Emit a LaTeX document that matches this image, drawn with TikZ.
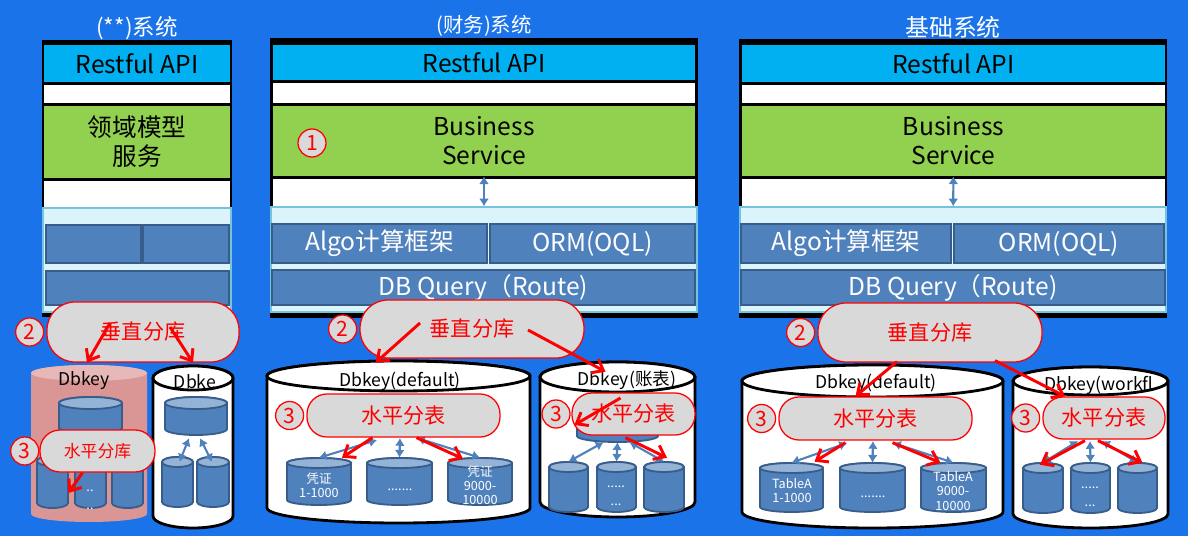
\documentclass[tikz,border=0pt]{standalone}
\usepackage{fontspec}
\setmainfont{Noto Sans CJK SC}
\usetikzlibrary{shapes, arrows, calc, arrows.meta, fit, positioning}

\definecolor{bgblue}{RGB}{26,115,232}
\definecolor{apicyan}{RGB}{0,176,240}
\definecolor{svcgreen}{RGB}{146,208,80}
\definecolor{dbblue}{RGB}{79,129,189}
\definecolor{dbedge}{RGB}{56,93,138}
\definecolor{dbtop}{RGB}{149,179,215}
\definecolor{panelcyan}{RGB}{219,244,251}
\definecolor{paneledge}{RGB}{120,195,220}
\definecolor{pillgray}{RGB}{217,217,217}
\definecolor{pinkbody}{RGB}{217,150,148}
\definecolor{pinktop}{RGB}{230,185,184}

\newcommand{\pxu}{0.025cm}% one pixel of the picture
% a box node from (x0,y0) to (x1,y1): style, name, x0, y0, x1, y1, then {text};
\newcommand{\bandnode}[6][]{\node[#1, minimum width={(#5-#3)*\pxu}, minimum height={(#6-#4)*\pxu}] (#2) at ({(#3+#5)/2},{(#4+#6)/2})}
% a drum: name, left x, right x, top y, bottom y, ellipse ry, body style, top style
\newcommand{\dbcyl}[8]{%
  \path[#7] (#2,#4+#6) -- (#2,#5-#6) arc[start angle=180, end angle=360, x radius={(#3-#2)/2*\pxu}, y radius={#6*\pxu}] -- (#3,#4+#6) arc[start angle=0, end angle=180, x radius={(#3-#2)/2*\pxu}, y radius={#6*\pxu}] -- cycle;
  \path[#8] ({(#2+#3)/2},#4+#6) ellipse[x radius={(#3-#2)/2*\pxu}, y radius={#6*\pxu}];
  \node[fit={(#2,#4) (#3,#5)}, inner sep=0pt] (#1) {};
}

\tikzset{
    frame/.style = {fill=black, inner sep=0pt}, % the black box round one system
    title/.style = {text=white, inner sep=0pt, font=\fontsize{16}{18}\selectfont},
    layer/.style = {inner sep=0pt, align=center, font=\fontsize{17.5}{20.5}\selectfont}, % one band of a system
    api/.style = {layer, fill=apicyan},
    svc/.style = {layer, fill=svcgreen},
    blank/.style = {layer, fill=white},
    panel/.style = {inner sep=0pt, fill=panelcyan, draw=paneledge, line width=0.8pt},
    dbox/.style = {layer, fill=dbblue, draw=dbedge, line width=1.5pt, text=white},
    pill/.style = {inner sep=0pt, fill=pillgray, draw=red, line width=0.9pt, rounded corners=0.5cm, text=red, font=\fontsize{15}{18}\selectfont},
    bigpill/.style = {pill, rounded corners=0.7cm},
    num/.style = {circle, draw=red, fill=pillgray, line width=0.9pt, minimum size=0.7cm, inner sep=0pt, text=red, font=\fontsize{15}{18}\selectfont},
    dbtext/.style = {inner sep=0pt, font=\fontsize{12.5}{14}\selectfont},
    tabtext/.style = {inner sep=0pt, text=white, align=center, font=\fontsize{9}{10}\selectfont},
    bigdb/.style = {fill=white, draw=black, line width=2pt},
    pinkdb/.style = {fill=pinkbody},
    pinkend/.style = {fill=pinktop},
    smalldb/.style = {fill=dbblue, draw=dbedge, line width=1.3pt},
    smalltop/.style = {fill=dbtop, draw=dbedge, line width=1.3pt},
    split/.style = {-{Straight Barb[length=7pt, width=11pt]}, red, line width=2.1pt}, % red arrow of a split
    bidir/.style = {{Latex[length=5.5pt, width=7pt]}-{Latex[length=5.5pt, width=7pt]}, dbblue, line width=1.5pt}
}

\begin{document}
\begin{tikzpicture}[x=0.025cm, y=-0.025cm]
\useasboundingbox (0,0) rectangle (1188,536);
\fill[bgblue] (0,0) rectangle (1188,536);

% (**) system
\bandnode[frame]{frameA}{42}{40}{232}{317} {};
\node[title, above=0pt of frameA] (titleA) {(**)系统};
\bandnode[api]{apiA}{44}{45}{230}{82} {Restful API};
\bandnode[blank]{gapA1}{44}{85}{230}{103} {};
\bandnode[svc]{svcA}{44}{106}{230}{178} {领域模型\\服务};
\bandnode[blank]{gapA2}{44}{181}{230}{207} {};
\bandnode[panel]{panelA}{43}{208}{231}{312} {};
\bandnode[dbox]{algoA}{46}{225}{141}{263} {};
\bandnode[dbox]{ormA}{143}{225}{229}{263} {};
\bandnode[dbox]{routeA}{46}{271}{229}{305} {};

% finance system
\bandnode[frame]{frameB}{270}{38}{698}{318} {};
\node[title, font=\fontsize{14.5}{17}\selectfont, above=1pt of frameB] (titleB) {(财务)系统};
\bandnode[api]{apiB}{273}{45}{695}{80} {Restful API};
\bandnode[blank]{gapB1}{273}{83}{695}{103} {};
\bandnode[svc]{svcB}{273}{106}{695}{176} {Business\\Service};
\bandnode[blank]{gapB2}{273}{179}{695}{207} {};
\bandnode[panel]{panelB}{271}{207}{697}{312} {};
\bandnode[dbox]{algoB}{272}{224}{487}{263} {Algo计算框架};
\bandnode[dbox]{ormB}{490}{224}{695}{263} {ORM(OQL)};
\bandnode[dbox]{routeB}{272}{270}{695}{305} {DB Query（Route)};
\node[num] (n1) at (312,143) {1};
\draw[bidir] (svcB) -- (panelB);

% base system
\bandnode[frame]{frameC}{739}{39}{1167}{318} {};
\node[title, font=\fontsize{17}{19}\selectfont, above=0pt of frameC] (titleC) {基础系统};
\bandnode[api]{apiC}{742}{45}{1165}{82} {Restful API};
\bandnode[blank]{gapC1}{742}{85}{1165}{103} {};
\bandnode[svc]{svcC}{742}{106}{1165}{176} {Business\\Service};
\bandnode[blank]{gapC2}{742}{179}{1165}{207} {};
\bandnode[panel]{panelC}{740}{207}{1166}{312} {};
\bandnode[dbox]{algoC}{741}{224}{951}{263} {Algo计算框架};
\bandnode[dbox]{ormC}{954}{224}{1164}{263} {ORM(OQL)};
\bandnode[dbox]{routeC}{741}{270}{1165}{305} {DB Query（Route)};
\draw[bidir] (svcC) -- (panelC);

% drums under (**)
\dbcyl{dbA}{31}{147}{365}{522}{8}{pinkdb}{pinkend}
\node[dbtext] (keyA) at (84,381) {Dbkey};
\dbcyl{dbA0}{59}{122}{397}{434}{6}{smalldb}{smalltop}
\dbcyl{dbA1}{37}{68}{456}{508}{5}{smalldb}{smalltop}
\dbcyl{dbA2}{75}{106}{456}{508}{5}{smalldb}{smalltop}
\dbcyl{dbA3}{112}{143}{456}{508}{5}{smalldb}{smalltop}
\node[tabtext, font=\fontsize{9}{12.5}\selectfont] (labA2) at (90,500) {..\\..};
\dbcyl{dbAw}{153}{233}{366}{528}{12}{bigdb}{bigdb}
\node[dbtext] (keyAw) at (195,382) {Dbke};
\dbcyl{dbAw0}{165}{227}{397}{435}{6}{smalldb}{smalltop}
\dbcyl{dbAw1}{162}{193}{457}{507}{5}{smalldb}{smalltop}
\dbcyl{dbAw2}{197}{229}{457}{507}{5}{smalldb}{smalltop}
\draw[bidir] ($(dbAw0.south)+(-7,3)$) -- ($(dbAw1.north)+(2,5)$);
\draw[bidir] ($(dbAw0.south)+(4,3)$) -- ($(dbAw2.north)+(-1,5)$);

% drums under finance
\dbcyl{dbB}{267}{530}{361}{523}{15}{bigdb}{bigdb}
\node[dbtext] (keyB) at (400,381) {Dbkey(default)};
\dbcyl{dbB1}{287}{351}{458}{505}{5}{smalldb}{smalltop}
\dbcyl{dbB2}{367}{432}{458}{505}{5}{smalldb}{smalltop}
\dbcyl{dbB3}{448}{512}{458}{505}{5}{smalldb}{smalltop}
\node[tabtext] (labB1) at (319,485) {凭证\\1-1000};
\node[tabtext] (labB2) at (400,490) {.......};
\node[tabtext] (labB3) at (480,485) {凭证\\9000-\\10000};
\coordinate (hubB) at (402,440);
\draw[bidir] ($(hubB)+(-25,0)$) -- (dbB1.north);
\draw[bidir] ($(hubB)+(-2,-2)$) -- (dbB2.north);
\draw[bidir] ($(hubB)+(15,-2)$) -- (dbB3.north);

\dbcyl{dbBb}{540}{695}{362}{517}{15}{bigdb}{bigdb}
\node[dbtext] (keyBb) at (627,380) {Dbkey(账表)};
\dbcyl{dbBb0}{577}{658}{402}{442}{6}{smalldb}{smalltop}
\dbcyl{dbBb1}{549}{588}{462}{512}{5}{smalldb}{smalltop}
\dbcyl{dbBb2}{597}{636}{462}{512}{5}{smalldb}{smalltop}
\dbcyl{dbBb3}{644}{684}{462}{512}{5}{smalldb}{smalltop}
\node[tabtext, font=\fontsize{9}{12.5}\selectfont] (labBb2) at (616,496) {.....\\...};
\draw[bidir] ($(dbBb0.south)+(-14,0)$) -- (dbBb1.north);
\draw[bidir] (dbBb0.south) -- (dbBb2.north);
\draw[bidir] ($(dbBb0.south)+(12,0)$) -- (dbBb3.north);

% drums under base
\dbcyl{dbC}{742}{1003}{365}{528}{16}{bigdb}{bigdb}
\node[dbtext] (keyC) at (876,383) {Dbkey(default)};
\dbcyl{dbC1}{760}{823}{463}{512}{5}{smalldb}{smalltop}
\dbcyl{dbC2}{840}{905}{463}{512}{5}{smalldb}{smalltop}
\dbcyl{dbC3}{921}{986}{463}{512}{5}{smalldb}{smalltop}
\node[tabtext] (labC1) at (792,491) {TableA\\1-1000};
\node[tabtext] (labC2) at (873,497) {.......};
\node[tabtext] (labC3) at (953,491) {TableA\\9000-\\10000};
\coordinate (hubC) at (873,441);
\draw[bidir] ($(hubC)+(-26,2)$) -- (dbC1.north);
\draw[bidir] (hubC) -- (dbC2.north);
\draw[bidir] ($(hubC)+(20,2)$) -- (dbC3.north);

\dbcyl{dbCb}{1013}{1168}{367}{528}{14}{bigdb}{bigdb}
\node[dbtext] (keyCb) at (1099,385) {Dbkey(workfl};
\dbcyl{dbCb1}{1023}{1063}{463}{513}{5}{smalldb}{smalltop}
\dbcyl{dbCb2}{1071}{1110}{463}{513}{5}{smalldb}{smalltop}
\dbcyl{dbCb3}{1118}{1157}{463}{513}{5}{smalldb}{smalltop}
\node[tabtext, font=\fontsize{9}{12.5}\selectfont] (labCb2) at (1090,497) {.....\\...};
\coordinate (hubCb) at (1090,441);
\draw[bidir] ($(hubCb)+(-12,0)$) -- (dbCb1.north);
\draw[bidir] (hubCb) -- (dbCb2.north);
\draw[bidir] ($(hubCb)+(12,0)$) -- (dbCb3.north);

% split bubbles
\bandnode[bigpill]{pillA2}{47}{302}{239}{362} {垂直分库};
\node[num, left=1.5pt of pillA2] (nA2) {2};
\bandnode[pill, font=\fontsize{12}{14}\selectfont]{pillA3}{40}{430}{155}{472} {水平分库};
\node[num, left=0pt of pillA3] (nA3) {3};
\bandnode[bigpill]{pillB2}{360}{300}{584}{358} {垂直分库};
\node[num, left=1.5pt of pillB2] (nB2) {2};
\bandnode[pill]{pillB3}{307}{394}{500}{437} {水平分表};
\node[num, left=1.5pt of pillB3] (nB3) {3};
\bandnode[pill]{pillB4}{572}{393}{695}{435} {水平分表};
\node[num, left=0.5pt of pillB4] (nB4) {3};
\bandnode[bigpill]{pillC2}{818}{303}{1042}{362} {垂直分库};
\node[num, left=1.5pt of pillC2] (nC2) {2};
\bandnode[pill]{pillC3}{779}{397}{972}{440} {水平分表};
\node[num, left=1.5pt of pillC3] (nC3) {3};
\bandnode[pill]{pillC4}{1043}{397}{1165}{439} {水平分表};
\node[num, left=1.5pt of pillC4] (nC4) {3};

% red split arrows
\draw[split] ($(pillA2)+(-33,-9)$) -- ($(dbA.north)+(-2,-2)$);
\draw[split] ($(pillA2)+(27,-5)$) -- ($(dbAw.north)+(0,-3)$);
\draw[split] ($(pillA3.south)+(-15,0)$) -- ($(dbA1.east)+(0,11)$);
\draw[split] ($(pillB2)+(-52,-6)$) -- ($(dbB.north)+(-23,2)$);
\draw[split] ($(pillB2)+(56,1)$) -- ($(dbBb.north)+(-12,10)$);
\draw[split] ($(pillB3.south)+(-31,0)$) -- ($(dbB1.north)+(23,0)$);
\draw[split] ($(pillB3.south)+(13,0)$) -- ($(dbB3.north)+(-17,1)$);
\draw[split] ($(pillB4)+(-13,-16)$) -- ($(pillB4.west)+(3,11)$);
\draw[split] ($(pillB4.south)+(-8,2)$) -- ($(dbBb3.north)+(3,-4)$);
\draw[split] ($(pillC2.south)+(-33,-1)$) -- ($(pillC3.north)+(-20,0)$);
\draw[split] ($(pillC2.south)+(65,-2)$) -- ($(pillC4.north)+(-39,0)$);
\draw[split] ($(pillC3.south)+(-30,2)$) -- ($(dbC1.north)+(23,-1)$);
\draw[split] ($(pillC3.south)+(17,2)$) -- ($(dbC3.north)+(-13,0)$);
\draw[split] ($(pillC4.south)+(-19,1)$) -- ($(dbCb1.north)+(-3,2)$);
\draw[split] ($(pillC4.south)+(-6,1)$) -- ($(dbCb3.north)+(5,0)$);
\end{tikzpicture}
\end{document}
